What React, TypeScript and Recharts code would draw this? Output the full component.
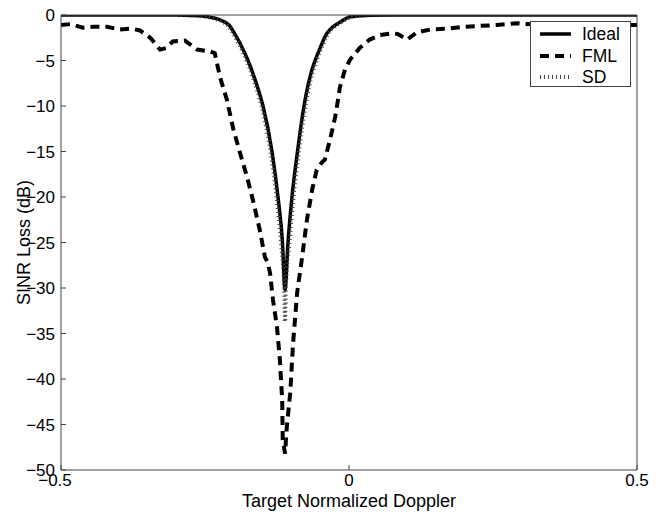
import React from 'react';
import { LineChart, Line, XAxis, YAxis, Legend } from 'recharts';

const dopplerIdeal = [-0.5, -0.3, -0.271, -0.255, -0.241, -0.225, -0.215, -0.207, -0.2014, -0.1892, -0.1753, -0.1615, -0.1493, -0.1337, -0.1233, -0.1155, -0.1111, -0.1059, -0.099, -0.0894, -0.0781, -0.0642, -0.0538, -0.0382, -0.028, -0.016, -0.007, 0.002, 0.019, 0.036, 0.08, 0.5];
const lossIdeal = [0, 0, -0.05, -0.12, -0.25, -0.5, -0.8, -1.2, -1.75, -3.1, -5.0, -7.4, -10, -15, -20, -25, -30.2, -25, -20, -15, -10, -6, -4.2, -2.0, -1.3, -0.8, -0.45, -0.2, -0.08, -0.02, 0, 0];

const dopplerFML = [-0.5, -0.484, -0.462, -0.444, -0.42, -0.398, -0.377, -0.363, -0.345, -0.328, -0.316, -0.306, -0.285, -0.264, -0.241, -0.233, -0.224, -0.212, -0.201, -0.189, -0.177, -0.167, -0.155, -0.146, -0.141, -0.137, -0.132, -0.125, -0.12, -0.116, -0.115, -0.111, -0.108, -0.102, -0.097, -0.09, -0.082, -0.073, -0.064, -0.056, -0.047, -0.042, -0.033, -0.024, -0.019, -0.016, -0.007, 0.002, 0.019, 0.036, 0.054, 0.076, 0.085, 0.101, 0.118, 0.141, 0.17, 0.198, 0.227, 0.257, 0.274, 0.293, 0.306, 0.366, 0.436, 0.491, 0.5];
const lossFML = [-1.1, -1.0, -1.4, -1.3, -1.3, -1.6, -1.5, -1.7, -2.5, -3.8, -3.6, -2.9, -2.8, -3.8, -4.0, -4.2, -6.8, -9.3, -12.5, -15.2, -17.8, -20.3, -23.6, -26.6, -27.2, -28.4, -31.3, -34.3, -37.9, -42.3, -46.7, -48.2, -45.3, -41.5, -36, -30.5, -26.9, -22.5, -19.2, -17, -16.2, -15.9, -13.7, -11.2, -9.3, -8, -6, -4.9, -3.6, -2.7, -2.2, -2.0, -2.1, -2.7, -1.9, -1.6, -1.5, -1.3, -1.2, -1.1, -1.0, -0.9, -1.0, -1.1, -1.1, -1.1, -1.1];

const dopplerSD = [-0.5, -0.3, -0.274, -0.258, -0.244, -0.228, -0.218, -0.2096, -0.204, -0.1918, -0.1779, -0.1641, -0.1519, -0.1363, -0.1259, -0.1181, -0.1128, -0.1111, -0.1094, -0.1033, -0.0964, -0.0868, -0.0755, -0.0616, -0.0512, -0.0356, -0.0254, -0.0134, -0.0044, 0.0046, 0.0216, 0.0386, 0.083, 0.5];
const lossSD = [0, 0, -0.05, -0.12, -0.25, -0.5, -0.8, -1.2, -1.75, -3.1, -5.0, -7.4, -10, -15, -20, -25, -29.8, -33.7, -29.8, -25, -20, -15, -10, -6, -4.2, -2.0, -1.3, -0.8, -0.45, -0.2, -0.08, -0.02, 0, 0];

const xTicks = [-0.5, 0, 0.5];
const yTicks = [-50, -45, -40, -35, -30, -25, -20, -15, -10, -5, 0];
const seriesNames = ['Ideal', 'FML', 'SD'];

const zip = (xs: number[], ys: number[]) => xs.map((f, i) => ({ f, v: ys[i] }));
const idealData = zip(dopplerIdeal, lossIdeal);
const fmlData = zip(dopplerFML, lossFML);
const sdData = zip(dopplerSD, lossSD);

const FONT = '"Liberation Sans", Arial, Helvetica, sans-serif';
const AXIS = '#444';

const styles = [
  { stroke: '#000', width: 3.5, dash: undefined as string | undefined },
  { stroke: '#000', width: 4, dash: '9 6' },
  { stroke: '#444', width: 4, dash: '1 3' },
];

const fmtTick = (v: number) => (v < 0 ? '\u2212' + String(Math.abs(v)) : String(v));

const XTick = (props: any) => {
  const { x, y, payload } = props;
  const shift = payload.value < 0 ? -6 : 0;
  return (
    <text x={x + shift} y={y} dy="0.71em" textAnchor="middle" fontSize={17} fontFamily={FONT} fill="#000">
      {fmtTick(payload.value)}
    </text>
  );
};

const LegendBox = () => (
  <div style={{ width: 101, height: 66, boxSizing: 'border-box', border: `1px solid ${AXIS}`, background: '#fff', fontFamily: FONT, fontSize: 17.5, position: 'relative' }}>
    {seriesNames.map((name, i) => (
      <div key={name} style={{ position: 'absolute', left: 0, top: 2 + i * 21.5, height: 20, display: 'flex', alignItems: 'center' }}>
        <svg width={51} height={20} style={{ display: 'block' }}>
          <line x1={9} x2={40} y1={10} y2={10} stroke={styles[i].stroke} strokeWidth={styles[i].width} strokeDasharray={styles[i].dash} />
        </svg>
        <span style={{ lineHeight: '20px', color: '#000' }}>{name}</span>
      </div>
    ))}
  </div>
);

export default function App() {
  return (
    <div style={{ position: 'absolute', left: 0, top: 0, width: 661, height: 515, background: '#fff' }}>
      <LineChart width={661} height={515} margin={{ top: 0, right: 0, bottom: 0, left: 0 }}>
        <XAxis
          xAxisId="b"
          dataKey="f"
          type="number"
          domain={[-0.5, 0.5]}
          ticks={xTicks}
          interval={0}
          height={45}
          orientation="bottom"
          stroke={AXIS}
          tickSize={-5}
          tickMargin={9}
          tick={<XTick />}
          allowDataOverflow
          label={(props: any) => {
            const vb = props.viewBox;
            return (
              <text x={vb.x + vb.width / 2} y={507} textAnchor="middle" fontSize={18} fontFamily={FONT} fill="#000">
                Target Normalized Doppler
              </text>
            );
          }}
        />
        <XAxis
          xAxisId="t"
          dataKey="f"
          type="number"
          domain={[-0.5, 0.5]}
          ticks={xTicks}
          interval={0}
          height={15}
          orientation="top"
          stroke={AXIS}
          tickSize={-5}
          tick={false}
          allowDataOverflow
        />
        <YAxis
          yAxisId="l"
          type="number"
          domain={[-50, 0]}
          ticks={yTicks}
          interval={0}
          width={61}
          orientation="left"
          stroke={AXIS}
          tickSize={-5}
          tickMargin={11}
          tickFormatter={fmtTick}
          tick={{ fill: '#000', fontSize: 17, fontFamily: FONT }}
          allowDataOverflow
          label={(props: any) => {
            const vb = props.viewBox;
            const cy = vb.y + vb.height / 2;
            return (
              <text x={30} y={cy} transform={`rotate(-90 30 ${cy})`} textAnchor="middle" fontSize={18} fontFamily={FONT} fill="#000">
                SINR Loss (dB)
              </text>
            );
          }}
        />
        <YAxis
          yAxisId="r"
          type="number"
          domain={[-50, 0]}
          ticks={yTicks}
          interval={0}
          width={24}
          orientation="right"
          stroke={AXIS}
          tickSize={-5}
          tick={false}
          allowDataOverflow
        />
        <Line xAxisId="b" yAxisId="l" data={idealData} dataKey="v" name="Ideal" type="monotone" stroke={styles[0].stroke} strokeWidth={styles[0].width} dot={false} activeDot={false} isAnimationActive={false} />
        <Line xAxisId="b" yAxisId="l" data={fmlData} dataKey="v" name="FML" type="linear" stroke={styles[1].stroke} strokeWidth={styles[1].width} strokeDasharray={styles[1].dash} dot={false} activeDot={false} isAnimationActive={false} />
        <Line xAxisId="t" yAxisId="r" data={sdData} dataKey="v" name="SD" type="monotone" stroke={styles[2].stroke} strokeWidth={styles[2].width} strokeDasharray={styles[2].dash} dot={false} activeDot={false} isAnimationActive={false} />
        <Legend
          layout="vertical"
          align="center"
          verticalAlign="middle"
          content={() => <LegendBox />}
          wrapperStyle={{ left: 530, top: 21, width: 101, height: 66, right: 'auto', bottom: 'auto' }}
        />
      </LineChart>
    </div>
  );
}
